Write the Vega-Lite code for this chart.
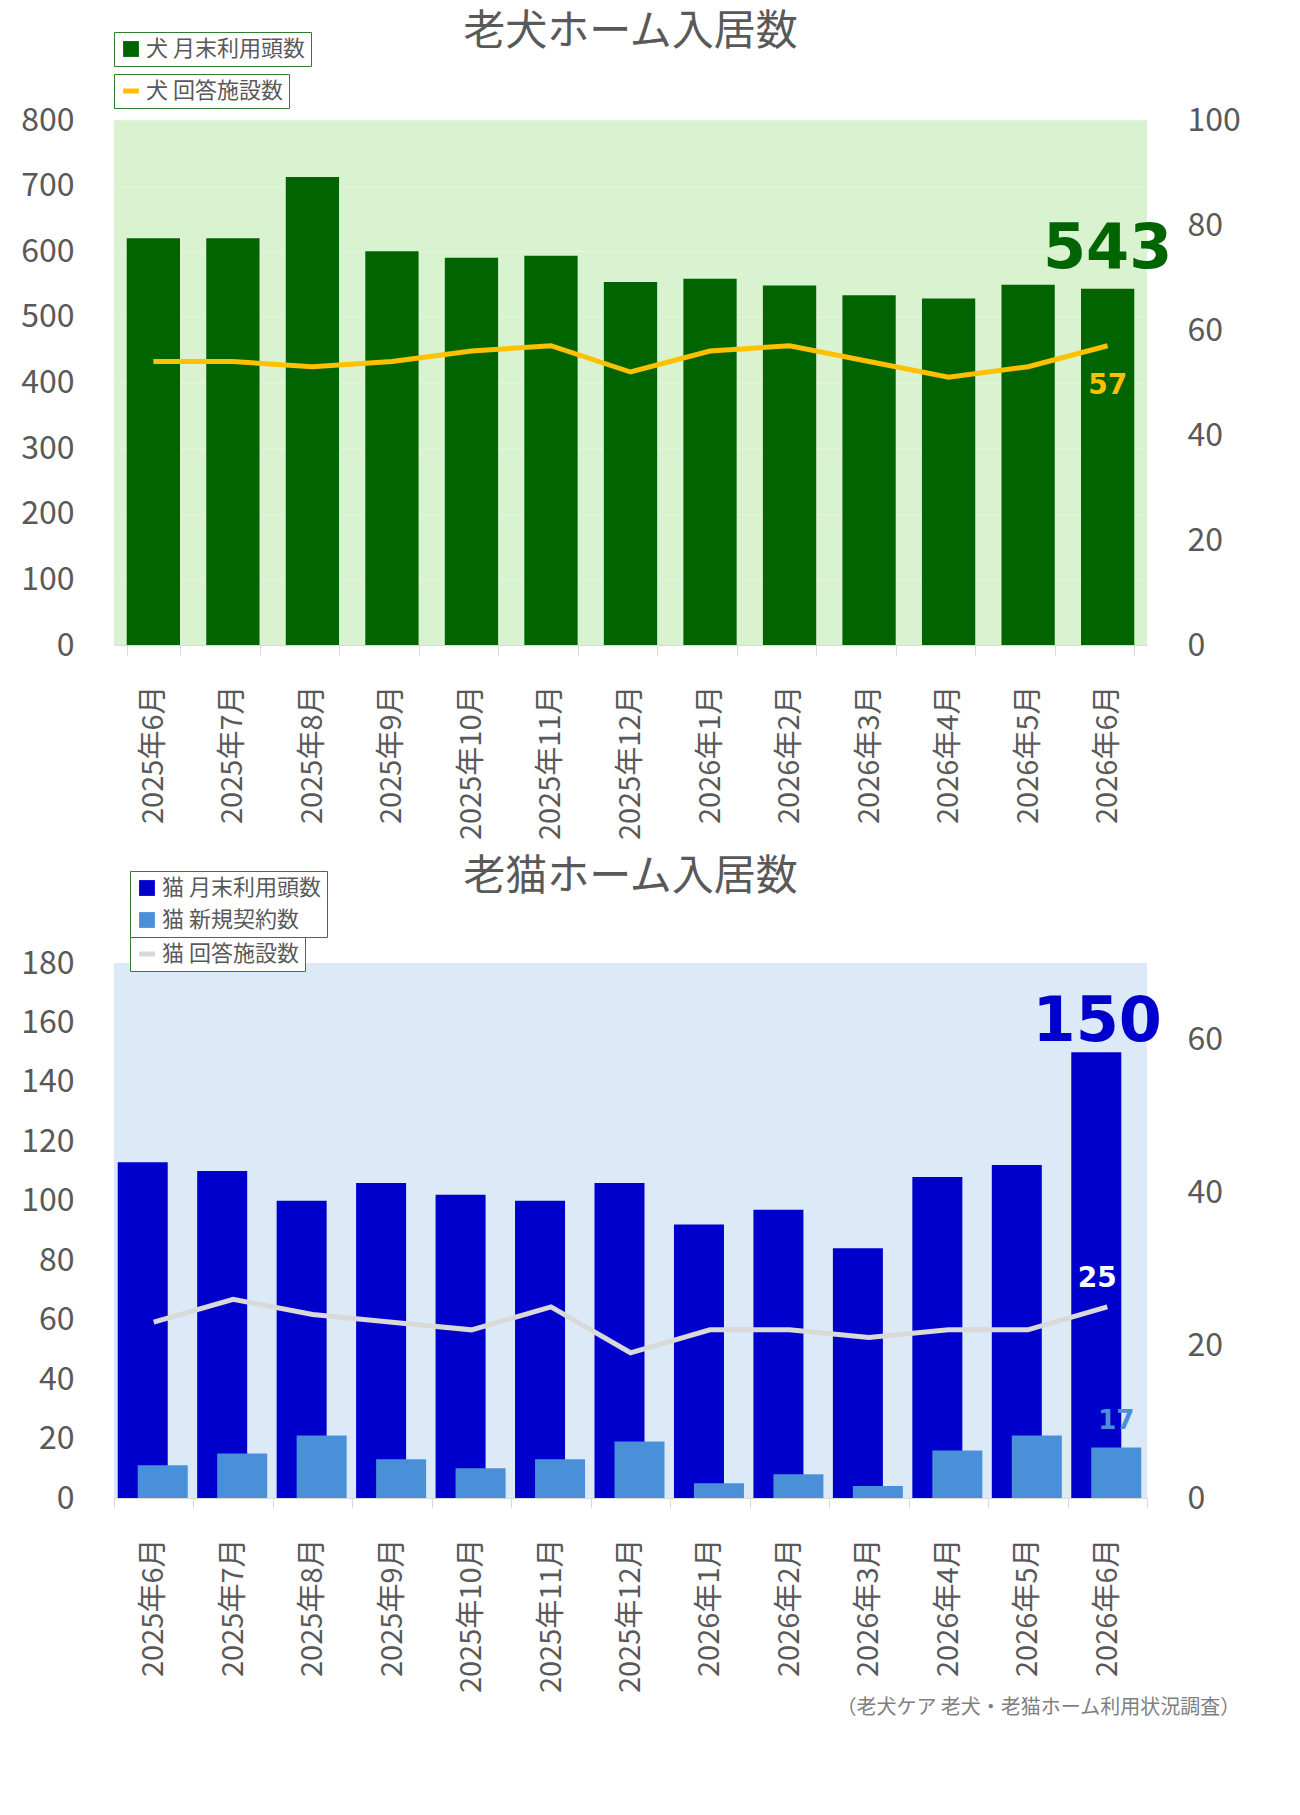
{
  "$schema": "https://vega.github.io/schema/vega-lite/v6.json",
  "background": "white",
  "padding": {"left": 20, "top": 10, "right": 20, "bottom": 5},
  "spacing": 15,
  "config": {
    "font": "Noto Sans CJK JP",
    "axis": {"labelColor": "#595959", "labelFontSize": 32, "labelFont": "Noto Sans CJK JP", "domain": false, "ticks": false, "title": null},
    "legend": {"labelFontSize": 22, "labelColor": "#595959", "fillColor": "white", "padding": 6, "symbolSize": 250, "labelFont": "Noto Sans CJK JP"},
    "title": {"fontSize": 42, "color": "#595959", "fontWeight": "normal", "font": "Noto Sans CJK JP"}
  },
  "title": {"text": "（老犬ケア 老犬・老猫ホーム利用状況調査）", "orient": "bottom", "anchor": "end", "fontSize": 20, "color": "#7f7f7f", "offset": 5},
  "datasets": {
    "dog": [
      {"month": "2025年6月", "dogs": 620, "facilities": 54},
      {"month": "2025年7月", "dogs": 620, "facilities": 54},
      {"month": "2025年8月", "dogs": 713, "facilities": 53},
      {"month": "2025年9月", "dogs": 600, "facilities": 54},
      {"month": "2025年10月", "dogs": 590, "facilities": 56},
      {"month": "2025年11月", "dogs": 593, "facilities": 57},
      {"month": "2025年12月", "dogs": 553, "facilities": 52},
      {"month": "2026年1月", "dogs": 558, "facilities": 56},
      {"month": "2026年2月", "dogs": 548, "facilities": 57},
      {"month": "2026年3月", "dogs": 533, "facilities": 54},
      {"month": "2026年4月", "dogs": 528, "facilities": 51},
      {"month": "2026年5月", "dogs": 549, "facilities": 53},
      {"month": "2026年6月", "dogs": 543, "facilities": 57}
    ],
    "cat": [
      {"month": "2025年6月", "cats": 113, "newContracts": 11, "facilities": 23},
      {"month": "2025年7月", "cats": 110, "newContracts": 15, "facilities": 26},
      {"month": "2025年8月", "cats": 100, "newContracts": 21, "facilities": 24},
      {"month": "2025年9月", "cats": 106, "newContracts": 13, "facilities": 23},
      {"month": "2025年10月", "cats": 102, "newContracts": 10, "facilities": 22},
      {"month": "2025年11月", "cats": 100, "newContracts": 13, "facilities": 25},
      {"month": "2025年12月", "cats": 106, "newContracts": 19, "facilities": 19},
      {"month": "2026年1月", "cats": 92, "newContracts": 5, "facilities": 22},
      {"month": "2026年2月", "cats": 97, "newContracts": 8, "facilities": 22},
      {"month": "2026年3月", "cats": 84, "newContracts": 4, "facilities": 21},
      {"month": "2026年4月", "cats": 108, "newContracts": 16, "facilities": 22},
      {"month": "2026年5月", "cats": 112, "newContracts": 21, "facilities": 22},
      {"month": "2026年6月", "cats": 150, "newContracts": 17, "facilities": 25}
    ]
  },
  "vconcat": [
    {
      "title": {"text": "老犬ホーム入居数", "offset": -22},
      "width": 1033,
      "height": 525,
      "view": {"fill": "#d9f2d0", "stroke": null},
      "data": {"name": "dog"},
      "encoding": {
        "x": {"field": "month", "type": "ordinal", "sort": null, "scale": {"paddingInner": 0.33, "paddingOuter": 0.16},
              "axis": {"labelAngle": -90, "labelFontSize": 29, "labelPadding": 30, "ticks": true, "tickColor": "#d9d9d9", "tickSize": 10, "tickBand": "extent", "domain": true, "domainColor": "#d9d9d9"}}
      },
      "layer": [
        {
          "mark": {"type": "bar", "color": "#006400"},
          "encoding": {
            "y": {"field": "dogs", "type": "quantitative", "scale": {"domain": [0, 800]}, "axis": {"tickCount": 8, "gridColor": "#e6f3de", "labelPadding": 40}},
            "fill": {"datum": "犬 月末利用頭数", "scale": {"range": ["#006400"]},
                     "legend": {"title": null, "orient": "none", "legendX": 0, "legendY": -88, "symbolType": "square", "strokeColor": "#2e7d32", "padding": 6}}
          }
        },
        {
          "mark": {"type": "line", "color": "#ffc000", "strokeWidth": 5},
          "encoding": {
            "y": {"field": "facilities", "type": "quantitative", "scale": {"domain": [0, 100]}, "axis": {"orient": "right", "tickCount": 5, "grid": false, "labelPadding": 40}},
            "stroke": {"datum": "犬 回答施設数", "scale": {"range": ["#ffc000"]},
                       "legend": {"title": null, "orient": "none", "legendX": 0, "legendY": -46, "symbolType": "stroke", "symbolStrokeWidth": 5, "strokeColor": "#2e7d32", "padding": 6}}
          }
        },
        {
          "transform": [{"filter": "datum.month == '2026年6月'"}],
          "mark": {"type": "text", "fontSize": 62, "fontWeight": "bold", "color": "#006400", "dy": -40, "font": "Verdana, DejaVu Sans"},
          "encoding": {"y": {"field": "dogs", "type": "quantitative", "scale": {"domain": [0, 800]}, "axis": null}, "text": {"field": "dogs"}}
        },
        {
          "transform": [{"filter": "datum.month == '2026年6月'"}],
          "mark": {"type": "text", "fontSize": 28, "fontWeight": "bold", "color": "#ffc000", "dy": 40, "font": "DejaVu Sans"},
          "encoding": {"y": {"field": "facilities", "type": "quantitative", "scale": {"domain": [0, 100]}, "axis": null}, "text": {"field": "facilities"}}
        }
      ],
      "resolve": {"scale": {"y": "independent", "fill": "independent", "stroke": "independent"}, "legend": {"fill": "independent", "stroke": "independent"}}
    },
    {
      "title": {"text": "老猫ホーム入居数", "offset": -28},
      "width": 1033,
      "height": 535,
      "view": {"fill": "#dceaf7", "stroke": null},
      "data": {"name": "cat"},
      "encoding": {
        "x": {"field": "month", "type": "ordinal", "sort": null, "scale": {"paddingInner": 0.0, "paddingOuter": 0.0},
              "axis": {"labelAngle": -90, "labelFontSize": 29, "labelPadding": 30, "ticks": true, "tickColor": "#d9d9d9", "tickSize": 10, "tickBand": "extent", "domain": true, "domainColor": "#d9d9d9"}}
      },
      "layer": [
        {
          "mark": {"type": "bar", "color": "#0000cc", "width": 50, "xOffset": -11},
          "encoding": {
            "y": {"field": "cats", "type": "quantitative", "scale": {"domain": [0, 180]}, "axis": {"tickCount": 9, "grid": false, "labelPadding": 40}},
            "fill": {"datum": "猫 月末利用頭数", "scale": {"domain": ["猫 月末利用頭数", "猫 新規契約数"], "range": ["#0000cc", "#4a90d9"]},
                     "legend": {"title": null, "orient": "none", "legendX": 16, "legendY": -92, "symbolType": "square", "strokeColor": "#2e7d32", "rowPadding": 10}}
          }
        },
        {
          "mark": {"type": "bar", "color": "#4a90d9", "width": 50, "xOffset": 9},
          "encoding": {
            "y": {"field": "newContracts", "type": "quantitative", "scale": {"domain": [0, 180]}, "axis": null},
            "fill": {"datum": "猫 新規契約数", "legend": null}
          }
        },
        {
          "mark": {"type": "line", "color": "#d9d9d9", "strokeWidth": 5},
          "encoding": {
            "y": {"field": "facilities", "type": "quantitative", "scale": {"domain": [0, 70]}, "axis": {"orient": "right", "values": [0, 20, 40, 60], "grid": false, "labelPadding": 40}},
            "stroke": {"datum": "猫 回答施設数", "scale": {"range": ["#d9d9d9"]},
                       "legend": {"title": null, "orient": "none", "legendX": 16, "legendY": -26, "symbolType": "stroke", "symbolStrokeWidth": 5, "strokeColor": "#2e7d32"}}
          }
        },
        {
          "transform": [{"filter": "datum.month == '2026年6月'"}],
          "mark": {"type": "text", "fontSize": 62, "fontWeight": "bold", "color": "#0000cc", "dy": -30, "dx": -10, "font": "Verdana, DejaVu Sans"},
          "encoding": {"y": {"field": "cats", "type": "quantitative", "scale": {"domain": [0, 180]}, "axis": null}, "text": {"field": "cats"}}
        },
        {
          "transform": [{"filter": "datum.month == '2026年6月'"}],
          "mark": {"type": "text", "fontSize": 28, "fontWeight": "bold", "color": "#ffffff", "dy": -28, "dx": -10, "font": "DejaVu Sans"},
          "encoding": {"y": {"field": "facilities", "type": "quantitative", "scale": {"domain": [0, 70]}, "axis": null}, "text": {"field": "facilities"}}
        },
        {
          "transform": [{"filter": "datum.month == '2026年6月'"}],
          "mark": {"type": "text", "fontSize": 26, "fontWeight": "bold", "color": "#4a90d9", "dy": -26, "dx": 9, "font": "DejaVu Sans"},
          "encoding": {"y": {"field": "newContracts", "type": "quantitative", "scale": {"domain": [0, 180]}, "axis": null}, "text": {"field": "newContracts"}}
        }
      ],
      "resolve": {"scale": {"y": "independent", "stroke": "independent"}, "legend": {"fill": "independent", "stroke": "independent"}}
    }
  ]
}
